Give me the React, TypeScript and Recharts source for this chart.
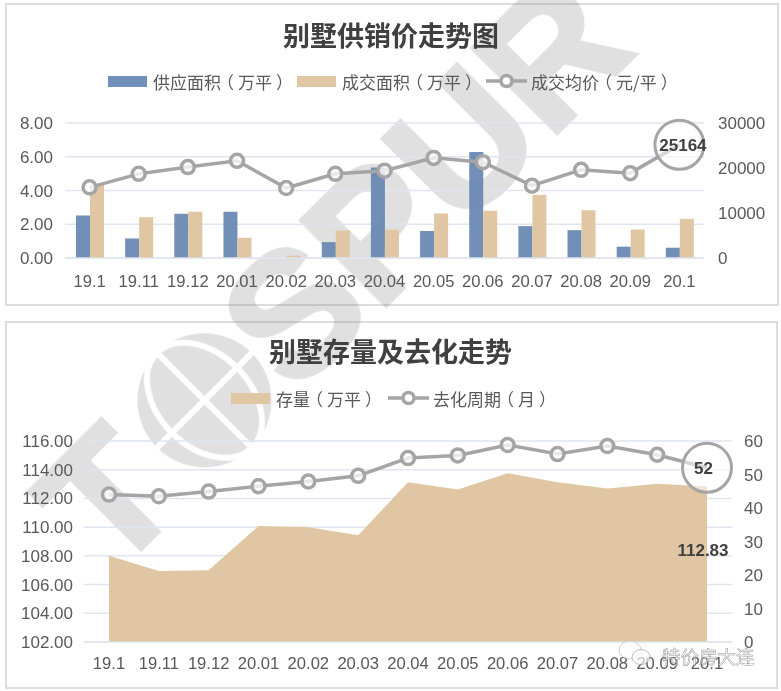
import React from 'react';
import { ComposedChart, Bar, Line, Area, XAxis, YAxis, CartesianGrid } from 'recharts';

const categories = ['19.1','19.11','19.12','20.01','20.02','20.03','20.04','20.05','20.06','20.07','20.08','20.09','20.1'];
const supply = [2.52,1.16,2.62,2.74,0,0.94,5.37,1.6,6.28,1.89,1.65,0.67,0.61];
const deal = [4.33,2.42,2.74,1.2,0.14,1.63,1.67,2.64,2.8,3.74,2.83,1.69,2.32];
const price = [15700,18700,20200,21600,15550,18700,19400,22250,21300,16070,19600,18860,25164];
const stock = [108.01,106.95,107,110.08,109.99,109.43,113.12,112.63,113.75,113.12,112.7,113.03,112.83];
const cycle = [44,43.5,44.9,46.5,47.9,49.6,54.9,55.7,58.8,56.1,58.5,55.9,52];
const leftTicks1 = [0,2,4,6,8];
const rightTicks1 = [0,10000,20000,30000];
const leftTicks2 = [102,104,106,108,110,112,114,116];
const rightTicks2 = [0,10,20,30,40,50,60];

const table1 = categories.map((c, i) => ({ c, supply: supply[i], deal: deal[i], price: price[i] }));
const table2 = categories.map((c, i) => ({ c, stock: stock[i], cycle: cycle[i] }));

const SANS = '"Liberation Sans", "Noto Sans CJK SC", sans-serif';
const CJK = '"Noto Sans CJK SC", sans-serif';
const TEXT = '#595959';
const DARK = '#404040';
const GRID = '#dfe5ee';
const BLUE = '#7190b7';
const BAR_BLUE = '#6586b1';
const TAN = '#e0c6a3';
const GRAY = '#a5a5a5';

const yTick = { fill: TEXT, fontSize: 17, fontFamily: SANS };
const xTick = { fill: TEXT, fontSize: 16.6, fontFamily: SANS };

function makeDot(text: string, dx: number) {
  return (props: any) => {
    const { cx, cy, index } = props;
    if (index === categories.length - 1) {
      return (
        <g key={index}>
          <circle cx={cx} cy={cy} r={24.5} fill="#fff" fillOpacity={0.55} stroke={GRAY} strokeWidth={3} />
          <text x={cx + dx} y={cy + 6} textAnchor="middle" fontFamily={SANS} fontWeight={700} fontSize={17} fill={DARK}>{text}</text>
        </g>
      );
    }
    return <circle key={index} cx={cx} cy={cy} r={6.5} fill="#fff" fillOpacity={0.75} stroke={GRAY} strokeWidth={3.5} />;
  };
}

function Swatch({ color }: { color: string }) {
  return <span style={{ display: 'inline-block', width: 39, height: 11, background: color, marginRight: 6 }} />;
}
function LineKey() {
  return (
    <svg width={41} height={16} style={{ marginRight: 4 }}>
      <line x1={0} x2={41} y1={8} y2={8} stroke={GRAY} strokeWidth={3.5} />
      <circle cx={20.5} cy={8} r={5.5} fill="#fff" stroke={GRAY} strokeWidth={3.5} />
    </svg>
  );
}
function Spaced({ label }: { label: string }) {
  const parts = label.split(/([（）])/);
  return (
    <span>
      {parts.map((p, i) => p === '（' || p === '）'
        ? <span key={i} style={{ position: 'relative', left: p === '（' ? -4 : 4 }}>{p}</span>
        : <span key={i}>{p}</span>)}
    </span>
  );
}
function LegendRow({ items, gap, left, top }: { items: { label: string; line?: boolean; color?: string }[]; gap: number; left: number; top: number }) {
  return (
    <div style={{ position: 'absolute', left, top, display: 'flex', alignItems: 'center', height: 24, fontFamily: CJK, fontSize: 17, color: TEXT, whiteSpace: 'nowrap' }}>
      {items.map((it, i) => (
        <span key={i} style={{ display: 'flex', alignItems: 'center', marginRight: gap }}>
          {it.line ? <LineKey /> : <Swatch color={it.color as string} />}
          <Spaced label={it.label} />
        </span>
      ))}
    </div>
  );
}

function Panel({ top, height, width }: { top: number; height: number; width: number }) {
  return <div style={{ position: 'absolute', left: 5, top, width, height, border: '2px solid #dcdcdc', boxSizing: 'border-box', background: '#fff' }} />;
}
function Title({ text, left, top }: { text: string; left: number; top: number }) {
  return <div style={{ position: 'absolute', left, top, fontFamily: CJK, fontWeight: 700, fontSize: 27, lineHeight: '36px', color: DARK, whiteSpace: 'nowrap' }}>{text}</div>;
}

function StockLabel(props: any) {
  const { x, y, index } = props;
  if (index !== categories.length - 1) return null;
  return <text x={x - 4} y={y + 69} textAnchor="middle" fontFamily={SANS} fontWeight={700} fontSize={17} fill={DARK}>{stock[index].toFixed(2)}</text>;
}

function Watermark() {
  const base = 'translate(150 541) rotate(-45)';
  const wm = '"Liberation Sans", sans-serif';
  return (
    <svg width={781} height={691} style={{ position: 'absolute', left: 0, top: 0, pointerEvents: 'none' }}>
      <defs>
        <mask id="globe" maskUnits="userSpaceOnUse" x={-100} y={-200} width={400} height={300}>
          <rect x={-100} y={-200} width={400} height={300} fill="#000" />
          <circle cx={138} cy={-61} r={67} fill="#fff" />
          <g fill="none" stroke="#000" strokeWidth={6}>
            <line x1={68} x2={208} y1={-61} y2={-61} />
            <line x1={138} x2={138} y1={-130} y2={8} />
            <ellipse cx={138} cy={-61} rx={46} ry={67} />
          </g>
        </mask>
      </defs>
      <g transform={base} fill="#808080" stroke="#808080" strokeWidth={4} opacity={0.25}>
        <text x={-53} y={0} fontFamily={wm} fontWeight={700} fontSize={175}>T</text>
        <rect x={-100} y={-200} width={400} height={300} mask="url(#globe)" stroke="none" />
        <text x={205} y={0} fontFamily={wm} fontWeight={700} fontSize={175}>SPUR</text>
      </g>
    </svg>
  );
}

function WeChatMark() {
  return (
    <svg width={781} height={691} style={{ position: 'absolute', left: 0, top: 0, pointerEvents: 'none' }}>
      <g opacity={0.8}>
        <ellipse cx={630} cy={650} rx={11} ry={9} fill="#fff" fillOpacity={0.7} stroke="#c4c4c4" />
        <ellipse cx={641} cy={657} rx={9} ry={7.5} fill="#fff" fillOpacity={0.8} stroke="#a8a8a8" />
        <text x={662} y={664} fontFamily={CJK} fontSize={18.5} fill="#fff" fillOpacity={0.75} stroke="#777" strokeWidth={0.5}>特价房大连</text>
      </g>
    </svg>
  );
}

export default function App() {
  return (
    <div style={{ position: 'absolute', left: 0, top: 0, width: 781, height: 691, overflow: 'hidden', background: '#fff' }}>
      <Panel top={3} height={303} width={774} />
      <Panel top={321} height={368} width={773} />
      <Watermark />
      <div style={{ position: 'absolute', left: 0, top: 0 }}>
        <ComposedChart width={781} height={310} data={table1} margin={{ top: 123, left: 5, right: 17, bottom: 22 }} barGap={0} barSize={14}>
          <CartesianGrid horizontal vertical={false} stroke={GRID} strokeWidth={1.5} yAxisId="l" />
          <XAxis dataKey="c" interval={0} tick={xTick} tickLine={false} tickMargin={11} height={30} axisLine={{ stroke: GRID, strokeWidth: 1.5 }} />
          <YAxis yAxisId="l" domain={[0, 8]} ticks={leftTicks1} width={60} tick={yTick} tickLine={false} axisLine={false} tickMargin={6} tickFormatter={(v: number) => v.toFixed(2)} />
          <YAxis yAxisId="r" orientation="right" domain={[0, 30000]} ticks={rightTicks1} width={60} tick={yTick} tickLine={false} axisLine={false} tickMargin={8} />
          <Bar yAxisId="l" dataKey="supply" fill={BAR_BLUE} fillOpacity={0.92} isAnimationActive={false} />
          <Bar yAxisId="l" dataKey="deal" fill={TAN} isAnimationActive={false} />
          <Line yAxisId="r" dataKey="price" stroke={GRAY} strokeWidth={3.5} dot={makeDot(String(price[price.length - 1]), 3.5)} activeDot={false} isAnimationActive={false} />
        </ComposedChart>
      </div>
      <div style={{ position: 'absolute', left: 0, top: 0 }}>
        <ComposedChart width={781} height={691} data={table2} margin={{ top: 441, left: 9, right: 14, bottom: 19 }}>
          <CartesianGrid horizontal vertical={false} stroke={GRID} strokeWidth={1.5} yAxisId="l" />
          <XAxis dataKey="c" scale="point" padding={{ left: 25, right: 25 }} interval={0} tick={xTick} tickLine={false} tickMargin={9} height={30} axisLine={{ stroke: GRID, strokeWidth: 1.5 }} />
          <YAxis yAxisId="l" domain={[102, 116]} ticks={leftTicks2} width={75} tick={yTick} tickLine={false} axisLine={false} tickMargin={5} tickFormatter={(v: number) => v.toFixed(2)} />
          <YAxis yAxisId="r" orientation="right" domain={[0, 60]} ticks={rightTicks2} width={35} tick={yTick} tickLine={false} axisLine={false} tickMargin={6} />
          <Area yAxisId="l" dataKey="stock" type="linear" stroke="none" fill={TAN} fillOpacity={1} label={StockLabel} isAnimationActive={false} />
          <Line yAxisId="r" dataKey="cycle" stroke={GRAY} strokeWidth={3.5} dot={makeDot(String(cycle[cycle.length - 1]), -3.5)} activeDot={false} isAnimationActive={false} />
        </ComposedChart>
      </div>
      <LegendRow left={108} top={69} gap={8} items={[{ label: '供应面积（万平）', color: BLUE }, { label: '成交面积（万平）', color: TAN }, { label: '成交均价（元/平）', line: true }]} />
      <LegendRow left={231} top={386} gap={10} items={[{ label: '存量（万平）', color: TAN }, { label: '去化周期（月）', line: true }]} />
      <Title text="别墅供销价走势图" left={283} top={17} />
      <Title text="别墅存量及去化走势" left={269} top={333} />
      <WeChatMark />
    </div>
  );
}
